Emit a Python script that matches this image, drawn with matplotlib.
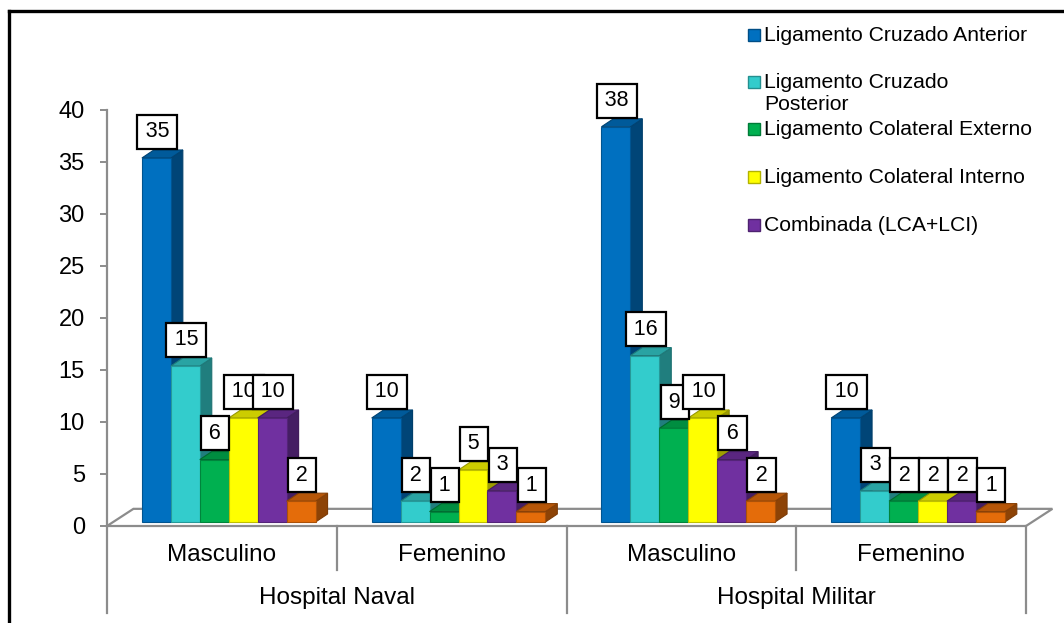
import numpy as np
import matplotlib
matplotlib.use("Agg")
import matplotlib.pyplot as plt
from matplotlib.patches import Polygon, Rectangle
from matplotlib.lines import Line2D
from matplotlib.colors import to_rgb

plt.rcParams['font.family'] = ['Liberation Sans', 'DejaVu Sans']

# datos: lesiones de ligamentos por hospital y sexo
hospitales = ["Hospital Naval", "Hospital Militar"]
sexos = ["Masculino", "Femenino", "Masculino", "Femenino"]
series = ["Ligamento Cruzado Anterior", "Ligamento Cruzado\nPosterior",
          "Ligamento Colateral Externo", "Ligamento Colateral Interno",
          "Combinada (LCA+LCI)"]
lca = [35, 10, 38, 10]
lcp = [15, 2, 16, 3]
lce = [6, 1, 9, 2]
lci = [10, 5, 10, 2]
combinada = [10, 3, 6, 2]
otras = [2, 1, 2, 1]
valores = [lca, lcp, lce, lci, combinada, otras]
colores = ["#0070C0", "#33CCCC", "#00B050", "#FFFF00", "#7030A0", "#E46C0A"]

W, H = 1064, 623
fig = plt.figure(figsize=(W / 100, H / 100), dpi=100)
ax = fig.add_axes([107 / W, (H - 526) / H, 919 / W, 416 / H])
ax.set_xlim(0, 4)
ax.set_ylim(0, 40)

gris = "#8C8C8C"

# piso en perspectiva
fx, fy = 0.115, 1.65
piso = Polygon([(0, 0), (4, 0), (4 + fx, fy), (fx, fy)], closed=True,
               facecolor="white", edgecolor=gris, lw=1.6, zorder=1, clip_on=False)
ax.add_patch(piso)

# barras con cara frontal, superior y lateral
off0, w = 0.152, 0.126
dx, dy = 0.052, 0.77
base = 0.385

def sombra(c, f):
    r, g, b = to_rgb(c)
    return (r * f, g * f, b * f)

hs = "\u200a"
x0 = np.arange(4) + off0
for j, (vals, col) in enumerate(zip(valores, colores)):
    xl = x0 + j * w
    z = 2 + j * 0.1
    ax.bar(xl, vals, width=w, bottom=base, align="edge", color=col,
           edgecolor=sombra(col, 0.75), lw=0.8, zorder=z + 0.05, clip_on=False)
    for x, v in zip(xl, vals):
        top = base + v
        lado = Polygon([(x + w, base), (x + w + dx, base + dy),
                        (x + w + dx, top + dy), (x + w, top)], closed=True,
                       facecolor=sombra(col, 0.62), edgecolor=sombra(col, 0.55),
                       lw=0.8, zorder=z, clip_on=False)
        tapa = Polygon([(x, top), (x + w, top), (x + w + dx, top + dy),
                        (x + dx, top + dy)], closed=True,
                       facecolor=sombra(col, 0.8), edgecolor=sombra(col, 0.6),
                       lw=0.8, zorder=z, clip_on=False)
        ax.add_patch(lado)
        ax.add_patch(tapa)
        ax.annotate(f"{hs}{v}{hs}", (x + w / 2 + 0.004, top + dy), xytext=(0, 5.5),
                    textcoords="offset points", ha="center", va="bottom",
                    fontsize=15.5, zorder=10 + j, annotation_clip=False,
                    bbox=dict(boxstyle="square,pad=0.3", fc="white",
                              ec="black", lw=1.6))

# eje vertical
ax.set_yticks(range(0, 45, 5))
ax.tick_params(axis="y", direction="out", length=5, width=1.4, color=gris,
               labelsize=17, pad=11)
ax.tick_params(axis="x", bottom=False, labelbottom=False)
for s in ["top", "right", "bottom"]:
    ax.spines[s].set_visible(False)
ax.spines["left"].set_color(gris)
ax.spines["left"].set_linewidth(1.6)
ax.set_facecolor("none")

# eje de categorias en dos niveles
for i, s in enumerate(sexos):
    ax.text(i + 0.5, -2.8, s, ha="center", va="center", fontsize=17.5,
            clip_on=False)
for k, h in enumerate(hospitales):
    ax.text(2 * k + 1, -6.9, h, ha="center", va="center", fontsize=17.5,
            clip_on=False)
for i in range(5):
    y1 = -8.4 if i % 2 == 0 else -4.2
    ax.add_line(Line2D([i, i], [0, y1], color=gris, lw=1.6, clip_on=False))

# leyenda
ley_y = [35, 82, 129, 177, 225]
for nombre, col, yy in zip(series, colores, ley_y):
    fig.patches.append(Rectangle((748 / W, 1 - (yy + 6) / H), 12 / W, 12 / H,
                                 transform=fig.transFigure, facecolor=col,
                                 edgecolor=sombra(col, 0.7), lw=1.0))
    fig.text(764 / W, 1 - (yy - 9) / H, nombre, ha="left", va="top",
             fontsize=15.2, linespacing=1.2)

# marco exterior
fig.add_artist(Line2D([9 / W, 1.0], [1 - 11 / H, 1 - 11 / H], color="black",
                      lw=2.4, transform=fig.transFigure))
fig.add_artist(Line2D([9 / W, 9 / W], [1 - 11 / H, 0], color="black",
                      lw=2.4, transform=fig.transFigure))

fig.savefig("out.png", dpi=100, facecolor="white")
